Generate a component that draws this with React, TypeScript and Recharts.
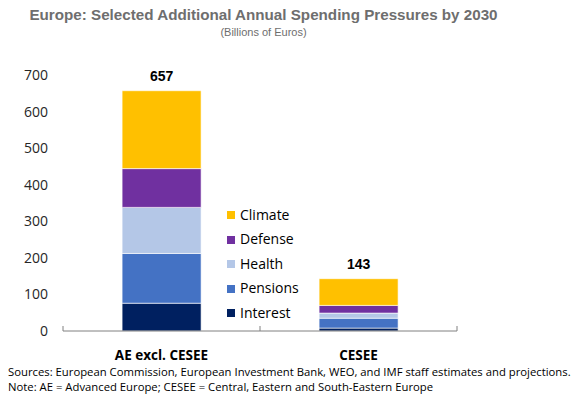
import React from "react";
import { BarChart, Bar, XAxis, YAxis, Legend, LabelList } from "recharts";

const categories = ["AE excl. CESEE", "CESEE"];
const interest = [76, 8];
const pensions = [136, 27];
const health = [126, 14];
const defense = [106, 21];
const climate = [213, 73];
const yTicks = [0, 100, 200, 300, 400, 500, 600, 700];

const seriesDefs = [
  { key: "Interest", values: interest, color: "#002060" },
  { key: "Pensions", values: pensions, color: "#4472C4" },
  { key: "Health", values: health, color: "#B4C7E7" },
  { key: "Defense", values: defense, color: "#7030A0" },
  { key: "Climate", values: climate, color: "#FFC000" },
];

const data = categories.map((c, i) => {
  const row: any = { name: c };
  let total = 0;
  seriesDefs.forEach((s) => {
    row[s.key] = s.values[i];
    total += s.values[i];
  });
  row.total = total;
  return row;
});

const sansFont = "'Open Sans', 'Noto Sans', sans-serif";
const titleFont = "'Liberation Sans', Arial, sans-serif";

const XTick = (props: any) => {
  const { x, y, payload, index } = props;
  const off = payload && payload.offset ? payload.offset : 0;
  return (
    <g>
      <line x1={x - off} x2={x - off} y1={y - 5} y2={y} stroke="#808080" strokeWidth={1} />
      {index === categories.length - 1 && (
        <line x1={x + off} x2={x + off} y1={y - 5} y2={y} stroke="#808080" strokeWidth={1} />
      )}
      <text
        x={x}
        y={y + 28.5}
        textAnchor="middle"
        fontFamily={sansFont}
        fontWeight={700}
        fontSize={13.5}
        fill="#000"
      >
        {payload.value}
      </text>
    </g>
  );
};

const TotalLabel = (props: any) => {
  const { x, y, width, index } = props;
  return (
    <text
      x={x + width / 2}
      y={y - 10}
      textAnchor="middle"
      fontFamily={titleFont}
      fontWeight={700}
      fontSize={14}
      fill="#000"
    >
      {data[index].total}
    </text>
  );
};

const LegendContent = () => {
  const items = [...seriesDefs].reverse();
  return (
    <div style={{ fontFamily: sansFont, fontSize: 14, color: "#000" }}>
      {items.map((s) => (
        <div
          key={s.key}
          style={{ display: "flex", alignItems: "center", height: 24.6, lineHeight: "24.6px", whiteSpace: "nowrap" }}
        >
          <span style={{ display: "inline-block", width: 8, height: 8, background: s.color, marginRight: 5 }} />
          <span>{s.key}</span>
        </div>
      ))}
    </div>
  );
};

export default function App() {
  return (
    <div style={{ position: "absolute", left: 0, top: 0, width: 582, height: 400, background: "#fff" }}>
      <div style={{ position: "absolute", left: 0, top: 0 }}>
        <BarChart
          width={582}
          height={400}
          data={data}
          margin={{ top: 75, right: 125, bottom: 39, left: 0 }}
          barCategoryGap="30%"
        >
          <XAxis
            dataKey="name"
            axisLine={{ stroke: "#808080", strokeWidth: 1 }}
            tickLine={false}
            tickSize={0}
            tickMargin={0}
            height={30}
            tick={<XTick />}
            interval={0}
          />
          <YAxis
            width={63}
            domain={[0, 700]}
            ticks={yTicks}
            axisLine={false}
            tickLine={false}
            tickSize={0}
            tickMargin={15}
            tick={{ fontFamily: sansFont, fontSize: 14, fill: "#262626" }}
          />
          <Legend
            layout="vertical"
            align="center"
            verticalAlign="middle"
            content={<LegendContent />}
            wrapperStyle={{ left: 227, top: 202.7, width: "auto" }}
          />
          {seriesDefs.map((s, i) => (
            <Bar
              key={s.key}
              dataKey={s.key}
              stackId="a"
              fill={s.color}
              stroke="#ffffff"
              strokeWidth={0.6}
              isAnimationActive={false}
            >
              {i === seriesDefs.length - 1 && <LabelList dataKey="total" content={<TotalLabel />} />}
            </Bar>
          ))}
        </BarChart>
      </div>
      <svg
        width={582}
        height={400}
        style={{ position: "absolute", left: 0, top: 0, pointerEvents: "none" }}
      >
        <text x={263.5} y={20} textAnchor="middle" fontFamily={titleFont} fontWeight={700} fontSize={15.2} fill="#6e6e6e">
          Europe: Selected Additional Annual Spending Pressures by 2030
        </text>
        <text x={263.5} y={36} textAnchor="middle" fontFamily={titleFont} fontSize={11} fill="#6e6e6e">
          (Billions of Euros)
        </text>
        <text x={8} y={375.5} fontFamily={sansFont} fontSize={11.3} fill="#000">
          Sources: European Commission, European Investment Bank, WEO, and IMF staff estimates and projections.
        </text>
        <text x={8} y={391} fontFamily={sansFont} fontSize={11.3} fill="#000">
          Note: AE = Advanced Europe; CESEE = Central, Eastern and South-Eastern Europe
        </text>
      </svg>
    </div>
  );
}
